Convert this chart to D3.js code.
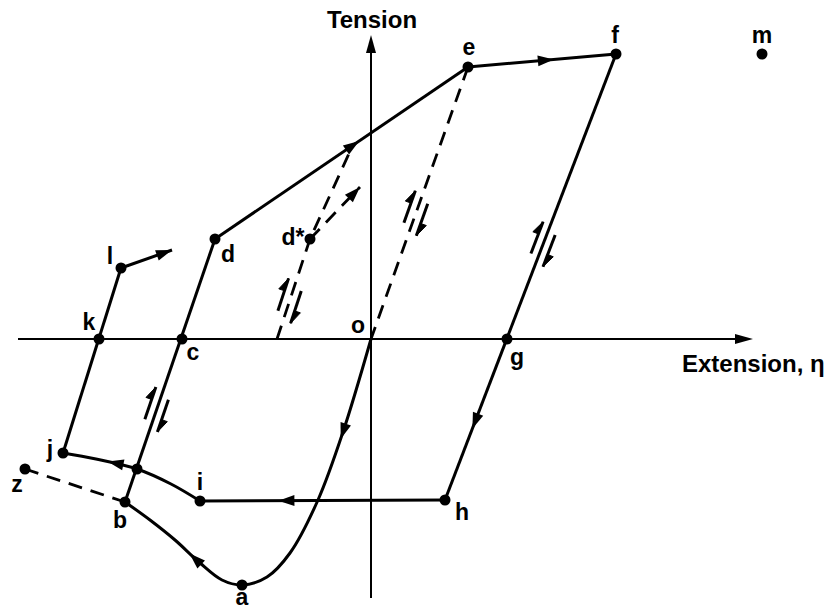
<!DOCTYPE html>
<html>
<head>
<meta charset="utf-8">
<script src="https://cdn.jsdelivr.net/npm/d3@7"></script>
<style>
  body { margin: 0; background: #fff; }
  svg { display: block; }
  text { font-family: "Liberation Sans", Arial, Helvetica, sans-serif; fill: #000; font-weight: bold; }
</style>
</head>
<body>
<svg id="chart" width="830" height="609"></svg>
<script>
const W = 830, H = 609;

// Named states on the tension / extension plane (extension η, tension)
const stateNames = ["o", "a", "b", "c", "d", "d*", "e", "f", "g", "h", "i", "j", "k", "l", "m", "z", "n"];
const stateExt   = [0, -12.9, -24.6, -18.9, -15.6, -6.1, 9.7, 24.5, 13.6, 7.4, -17.1, -30.8, -27.2, -25.0, 39.1, -34.6, -23.4];
const stateTen   = [0, -24.6, -16.3, 0, 10.0, 10.0, 27.2, 28.5, 0, -16.1, -16.2, -11.4, 0, 7.1, 28.5, -13.0, -13.0];
const stateLabels = ["o", "a", "b", "c", "d", "d*", "e", "f", "g", "h", "i", "j", "k", "l", "m", "z", ""];
const dottedStates = ["a", "b", "c", "d", "d*", "e", "f", "g", "h", "i", "j", "k", "l", "m", "z", "n"];

// Compressive loading curve o -> a -> b
const loadCurveExt = [0, -2.8, -5.3, -8.1, -10.4, -12.9, -14.9, -17.1, -19.6, -22.1, -24.6];
const loadCurveTen = [0, -9.3, -16.1, -21.4, -23.8, -24.6, -24.1, -22.4, -20.1, -18.1, -16.3];

// Curve i -> n -> j
const returnCurveExt = [-17.1, -20.0, -23.4, -27.5, -30.8];
const returnCurveTen = [-16.2, -14.5, -13.0, -12.0, -11.4];

// Reloading path from the axis through d* up to the d-e branch
const reloadExt = [-9.4, -6.1, -1.9];
const reloadTen = [0, 10.0, 19.2];

// Free ends of the short direction arrows
const fromLExt = -19.9, fromLTen = 8.9;
const fromDStarExt = -1.1, fromDStarTen = 15.2;

// Axis extents
const axisExt = [-35.3, 38.2];
const axisTen = [-25.9, 30.4];

// Reversible-path markers (paired half arrows)
const reversibleOn  = ["bd", "reload", "eo", "fh"];
const reversibleExt = [-21.3, -8.4, 4.4, 17.4];
const reversibleTen = [-7.1, 3.9, 12.6, 9.4];

const x = d3.scaleLinear().domain([-37.1, 45.9]).range([0, W]);
const y = d3.scaleLinear().domain([-27.0, 33.9]).range([H, 0]);

const svg = d3.select("#chart");
const idx = name => stateNames.indexOf(name);
const pt = name => [x(stateExt[idx(name)]), y(stateTen[idx(name)])];
const toPx = (ex, te) => ex.map((v, i) => [x(v), y(te[i])]);

const straight = d3.line();
const smooth = d3.line().curve(d3.curveCatmullRom.alpha(0.5));

// Arrowhead drawn with its tip at (tx, ty), pointing along (ux, uy)
function arrowHead(g, tx, ty, ux, uy, len = 16, half = 5.5) {
  const nx = -uy, ny = ux;
  const bx = tx - ux * len, by = ty - uy * len;
  g.append("path")
    .attr("d", `M${tx},${ty}L${bx + nx * half},${by + ny * half}L${bx - nx * half},${by - ny * half}Z`)
    .attr("fill", "#000");
}

// ---- axes ----
const axes = svg.append("g");
axes.append("line")
  .attr("x1", x(axisExt[0])).attr("y1", y(0))
  .attr("x2", x(axisExt[1]) - 10).attr("y2", y(0))
  .attr("stroke", "#000").attr("stroke-width", 2);
arrowHead(axes, x(axisExt[1]), y(0), 1, 0, 18, 5);
axes.append("line")
  .attr("x1", x(0)).attr("y1", y(axisTen[0]))
  .attr("x2", x(0)).attr("y2", y(axisTen[1]) + 10)
  .attr("stroke", "#000").attr("stroke-width", 2);
arrowHead(axes, x(0), y(axisTen[1]), 0, -1, 18, 5);

axes.append("text")
  .attr("x", x(0) + 1).attr("y", 28)
  .attr("text-anchor", "middle")
  .attr("font-size", 24)
  .text("Tension");
axes.append("text")
  .attr("x", 682).attr("y", 372)
  .attr("font-size", 24)
  .text("Extension, η");

// ---- paths ----
const segments = [
  { id: "load",   pts: toPx(loadCurveExt, loadCurveTen), curve: true },
  { id: "bd",     pts: [pt("b"), pt("d")] },
  { id: "de",     pts: [pt("d"), pt("e")] },
  { id: "ef",     pts: [pt("e"), pt("f")] },
  { id: "fh",     pts: [pt("f"), pt("h")] },
  { id: "hi",     pts: [pt("h"), pt("i")] },
  { id: "ij",     pts: toPx(returnCurveExt, returnCurveTen), curve: true },
  { id: "jl",     pts: [pt("j"), pt("l")] },
  { id: "lout",   pts: [pt("l"), [x(fromLExt), y(fromLTen)]] },
  { id: "eo",     pts: [pt("e"), pt("o")], dash: true },
  { id: "reload", pts: toPx(reloadExt, reloadTen), dash: true },
  { id: "dsout",  pts: [pt("d*"), [x(fromDStarExt), y(fromDStarTen)]], dash: true },
  { id: "zb",     pts: [pt("z"), pt("b")], dash: true }
];

const paths = svg.append("g").attr("fill", "none").attr("stroke", "#000");
const pathNodes = {};
segments.forEach(s => {
  const p = paths.append("path")
    .attr("d", (s.curve ? smooth : straight)(s.pts))
    .attr("stroke-width", s.dash ? 2.8 : 3)
    .attr("stroke-dasharray", s.dash ? "14,9" : null);
  pathNodes[s.id] = p.node();
});

// Direction arrows placed along paths (fraction of length to the arrow tip)
const flowArrows = [
  { on: "load", at: 0.24 },
  { on: "load", at: 0.81 },
  { on: "de",   at: 0.57 },
  { on: "ef",   at: 0.58 },
  { on: "fh",   at: 0.84 },
  { on: "hi",   at: 0.68 },
  { on: "ij",   at: 0.69 },
  { on: "lout", at: 1.0 },
  { on: "dsout", at: 1.0 }
];
const arrows = svg.append("g");
flowArrows.forEach(a => {
  const node = pathNodes[a.on];
  const L = node.getTotalLength();
  const s = a.at * L;
  const p = node.getPointAtLength(s);
  const q = node.getPointAtLength(Math.max(0, s - 3));
  let ux = p.x - q.x, uy = p.y - q.y;
  const m = Math.hypot(ux, uy); ux /= m; uy /= m;
  arrowHead(arrows, p.x, p.y, ux, uy);
});

// Paired half arrows marking reversible (elastic) branches
const marks = svg.append("g");
reversibleOn.forEach((segId, i) => {
  const seg = segments.find(s => s.id === segId);
  let a = seg.pts[0], b = seg.pts[1];
  let ux = b[0] - a[0], uy = b[1] - a[1];
  const m = Math.hypot(ux, uy); ux /= m; uy /= m;
  if (uy > 0) { ux = -ux; uy = -uy; }           // point upwards on screen
  const px0 = x(reversibleExt[i]), py0 = y(reversibleTen[i]);
  // project the marker centre onto the branch
  const t = (px0 - a[0]) * ux + (py0 - a[1]) * uy;
  const cx = a[0] + ux * t, cy = a[1] + uy * t;
  const nx = uy, ny = -ux;                       // left-hand normal
  const off = 8, half = 17, stag = 4, bl = 13, bw = 6;
  // upward half arrow on the left
  const l0 = [cx + nx * off + ux * stag, cy + ny * off + uy * stag];
  const lTop = [l0[0] + ux * half, l0[1] + uy * half];
  const lBot = [l0[0] - ux * half, l0[1] - uy * half];
  marks.append("path")
    .attr("d", `M${lBot}L${lTop}`)
    .attr("stroke", "#000").attr("stroke-width", 3).attr("fill", "none");
  marks.append("path")
    .attr("d", `M${lTop}L${lTop[0] - ux * bl + nx * bw},${lTop[1] - uy * bl + ny * bw}L${lTop[0] - ux * bl},${lTop[1] - uy * bl}Z`)
    .attr("fill", "#000").attr("stroke", "#000").attr("stroke-width", 1);
  // downward half arrow on the right
  const r0 = [cx - nx * off - ux * stag, cy - ny * off - uy * stag];
  const rTop = [r0[0] + ux * half, r0[1] + uy * half];
  const rBot = [r0[0] - ux * half, r0[1] - uy * half];
  marks.append("path")
    .attr("d", `M${rTop}L${rBot}`)
    .attr("stroke", "#000").attr("stroke-width", 3).attr("fill", "none");
  marks.append("path")
    .attr("d", `M${rBot}L${rBot[0] + ux * bl - nx * bw},${rBot[1] + uy * bl - ny * bw}L${rBot[0] + ux * bl},${rBot[1] + uy * bl}Z`)
    .attr("fill", "#000").attr("stroke", "#000").attr("stroke-width", 1);
});

// ---- state dots ----
svg.append("g").selectAll("circle")
  .data(dottedStates)
  .join("circle")
  .attr("cx", d => pt(d)[0])
  .attr("cy", d => pt(d)[1])
  .attr("r", 5.5)
  .attr("fill", "#000");

// ---- state labels (offsets in px from the state point) ----
const labelOffset = {
  "o": [-13, -6], "a": [0, 20], "b": [-5, 26], "c": [11, 21], "d": [13, 23],
  "d*": [-17, 6], "e": [1, -12], "f": [-1, -11], "g": [10, 26], "h": [17, 20],
  "i": [0, -11], "j": [-13, 4], "k": [-10, -9], "l": [-11, -4], "m": [0, -11], "z": [-8, 23]
};
svg.append("g").selectAll("text")
  .data(stateNames.filter((n, i) => stateLabels[i] !== ""))
  .join("text")
  .attr("x", d => pt(d)[0] + labelOffset[d][0])
  .attr("y", d => pt(d)[1] + labelOffset[d][1])
  .attr("text-anchor", "middle")
  .attr("font-size", 23)
  .text(d => stateLabels[idx(d)]);
</script>
</body>
</html>
